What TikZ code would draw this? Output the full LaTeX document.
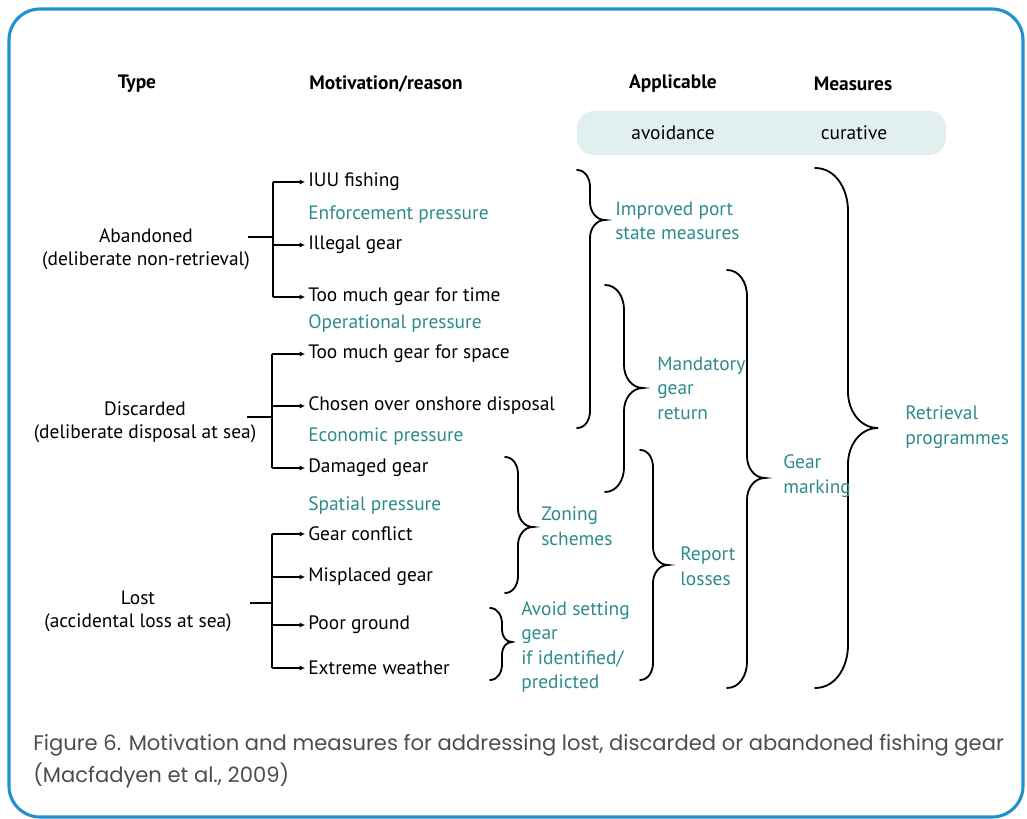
\documentclass[tikz,border=0pt]{standalone}
\usepackage{fontspec}
\setmainfont{PT Sans}
\newfontfamily\capfont{Poppins}
\usetikzlibrary{arrows.meta,calc,positioning}
\definecolor{measteal}{HTML}{2E8B8B}
\definecolor{bandfill}{HTML}{E2EFEF}
\definecolor{framblue}{HTML}{1E90D0}
\definecolor{capgrey}{HTML}{4D4D4D}
\newcommand{\gearbrace}[6]{% xend, ytop, xvert, xtip, ytip, ybot
  \pgfmathsetmacro{\de}{1.3*(#3-#1)}
  \pgfmathsetmacro{\dt}{1.2*(#4-#3)}
  \draw[curly] (#1,#2) to[out=0,in=90] (#3,#2+\de) -- (#3,#5-\dt)
    to[out=-90,in=180] (#4,#5) to[out=180,in=90] (#3,#5+\dt)
    -- (#3,#6-\de) to[out=-90,in=0] (#1,#6);
}
\tikzset{
  header/.style={font=\fontsize{13.8}{16}\selectfont\bfseries, inner sep=0pt},
  typelabel/.style={align=center, font=\fontsize{13.8}{16.5}\selectfont, inner sep=0pt},
  reason/.style={anchor=west, font=\fontsize{13.8}{16}\selectfont, inner sep=0pt},
  pressure/.style={reason, text=measteal},
  measure/.style={anchor=west, align=left, text=measteal, font=\fontsize{13.8}{17.5}\selectfont, inner sep=0pt},
  band/.style={fill=bandfill, rounded corners=12pt},
  trunk/.style={line width=0.9pt},
  branch/.style={trunk, -{Latex[length=1.4mm,width=1.3mm]}, shorten >=2pt},
  curly/.style={line width=1.3pt, line cap=round},
  caption/.style={anchor=west, font=\capfont\fontsize{15}{18}\selectfont, text=capgrey, inner sep=0pt}
}
\begin{document}
\begin{tikzpicture}[x=0.025cm,y=-0.025cm]
  \useasboundingbox (0,0) rectangle (1027,819);
  \draw[framblue, line width=2.2pt, rounded corners=22pt] (9,9) rectangle (1023,817);

  \node[header] (htype) at (137,84) {Type};
  \node[header] (hmotiv) at (386,84) {Motivation/reason};
  \node[header] (happl) at (673,84) {Applicable};
  \node[header] (hmeas) at (853,84) {Measures};
  \fill[band] (577,111) rectangle (946,155);
  \node[inner sep=0pt, font=\fontsize{13.8}{16}\selectfont] (avoid) at (673,133) {avoidance};
  \node[inner sep=0pt, font=\fontsize{13.8}{16}\selectfont] (cura) at (854,133) {curative};

  \node[typelabel] (aband) at (146,249) {Abandoned\\(deliberate non-retrieval)};
  \node[typelabel] (disc) at (145,422) {Discarded\\(deliberate disposal at sea)};
  \node[typelabel] (lost) at (138,611) {Lost\\(accidental loss at sea)};

  \node[reason] (iuu) at (308,182) {IUU fishing};
  \node[pressure] (enforce) at (308,215) {Enforcement pressure};
  \node[reason] (illegal) at (308,245) {Illegal gear};
  \node[reason] (gtime) at (308,297) {Too much gear for time};
  \node[pressure] (oper) at (308,324) {Operational pressure};
  \node[reason] (gspace) at (308,354) {Too much gear for space};
  \node[reason] (chosen) at (308,406) {Chosen over onshore disposal};
  \node[pressure] (econ) at (308,437) {Economic pressure};
  \node[reason] (damaged) at (308,468) {Damaged gear};
  \node[pressure] (spatial) at (308,506) {Spatial pressure};
  \node[reason] (conflict) at (308,534) {Gear conflict};
  \node[reason] (misplaced) at (308,577) {Misplaced gear};
  \node[reason] (poor) at (308,625) {Poor ground};
  \node[reason] (weather) at (308,668) {Extreme weather};

  \coordinate (abj) at (273,237);
  \coordinate (dij) at (272,417);
  \coordinate (loj) at (272,603);
  \draw[trunk] (248,237) -- (abj);
  \draw[trunk] (247,417) -- (dij);
  \draw[trunk] (250,603) -- (loj);
  \draw[trunk] (abj |- iuu) -- (abj |- gtime);
  \draw[trunk] (dij |- gspace) -- (dij |- damaged);
  \draw[trunk] (loj |- conflict) -- (loj |- weather);
  \foreach \m in {iuu,illegal,gtime} \draw[branch] (abj |- \m) -- (\m.west);
  \foreach \m in {gspace,chosen,damaged} \draw[branch] (dij |- \m) -- (\m.west);
  \foreach \m in {conflict,misplaced,poor,weather} \draw[branch] (loj |- \m) -- (\m.west);

  \gearbrace{577}{170}{590}{605}{220}{428}
  \gearbrace{605}{285}{624}{643}{388}{492}
  \gearbrace{727}{270}{747}{765}{478}{688}
  \gearbrace{815}{168}{848}{878}{428}{688}
  \gearbrace{505}{457}{518}{533}{527}{593}
  \gearbrace{640}{450}{653}{668}{565}{680}
  \gearbrace{490}{608}{502}{512}{642}{680}

  \node[measure] (port) at (615,221) {Improved port\\state measures};
  \node[measure] (mandat) at (657,388) {Mandatory\\gear\\return};
  \node[measure] (marking) at (783,476) {Gear\\marking};
  \node[measure] (retriev) at (905,427) {Retrieval\\programmes};
  \node[measure] (zoning) at (541,526) {Zoning\\schemes};
  \node[measure] (report) at (680,566) {Report\\losses};
  \node[measure] (avoidset) at (521,647) {Avoid setting\\gear\\if identified/\\predicted};

  \node[caption] (cap1) at (33,745) {Figure 6. Motivation and measures for addressing lost, discarded or abandoned fishing gear};
  \node[caption] (cap2) at (33,775) {(Macfadyen et al., 2009)};
\end{tikzpicture}
\end{document}
